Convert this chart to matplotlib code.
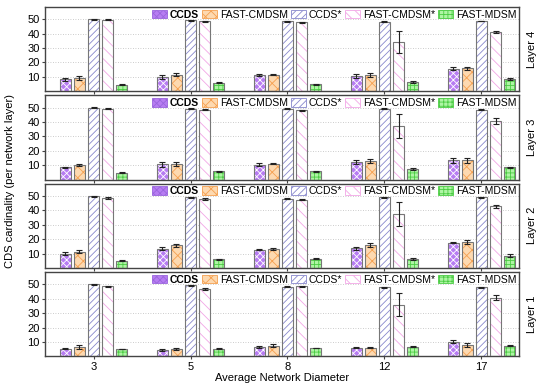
import matplotlib
matplotlib.use("Agg")
import matplotlib.pyplot as plt
import numpy as np
from matplotlib.patches import Patch

plt.rcParams['font.family'] = ['Liberation Sans', 'DejaVu Sans']
plt.rcParams['hatch.linewidth'] = 0.6

diameters = ["3", "5", "8", "12", "17"]
series = ["CCDS", "FAST-CMDSM", "CCDS*", "FAST-CMDSM*", "FAST-MDSM"]
layers = ["Layer 4", "Layer 3", "Layer 2", "Layer 1"]

# values per layer: rows = series, cols = diameters
layer4 = [[8.2, 10.0, 11.0, 10.7, 15.6],
          [9.1, 11.4, 11.5, 11.4, 16.0],
          [50.0, 49.3, 48.7, 48.3, 48.8],
          [49.7, 48.6, 48.0, 34.4, 41.1],
          [4.4, 6.0, 4.7, 6.5, 8.4]]
layer4_err = [[1.0, 1.3, 0.6, 1.3, 1.0],
              [1.2, 1.0, 0.6, 1.5, 1.0],
              [0.3, 0.4, 0.4, 0.3, 0.3],
              [0.3, 0.4, 0.4, 7.6, 0.7],
              [0.4, 0.4, 0.4, 0.6, 0.7]]
layer3 = [[8.4, 10.7, 10.3, 12.4, 13.3],
          [10.0, 11.0, 11.0, 13.0, 13.5],
          [50.0, 49.2, 49.4, 49.4, 48.7],
          [49.2, 48.5, 48.2, 37.5, 40.8],
          [4.7, 5.6, 5.8, 7.2, 8.6]]
layer3_err = [[0.4, 1.8, 1.0, 1.3, 1.5],
              [0.8, 1.3, 0.4, 1.2, 1.8],
              [0.3, 0.3, 0.3, 0.3, 0.4],
              [0.4, 0.4, 0.3, 8.4, 2.2],
              [0.3, 0.4, 0.3, 0.6, 0.3]]
layer2 = [[9.8, 13.5, 12.8, 13.8, 17.5],
          [11.2, 15.8, 13.0, 15.8, 18.0],
          [50.0, 49.3, 48.1, 49.3, 49.3],
          [48.8, 48.1, 47.4, 37.7, 43.0],
          [5.1, 6.1, 6.3, 6.1, 8.4]]
layer2_err = [[1.0, 0.8, 0.4, 1.0, 0.4],
              [1.0, 1.0, 0.8, 1.5, 1.2],
              [0.3, 0.3, 0.3, 0.3, 0.3],
              [0.5, 0.5, 0.4, 8.2, 1.0],
              [0.3, 0.4, 0.3, 0.6, 1.0]]
layer1 = [[5.3, 4.4, 6.5, 6.0, 10.0],
          [6.5, 5.1, 7.2, 6.0, 7.9],
          [50.0, 49.3, 48.3, 47.9, 47.9],
          [48.6, 46.9, 48.6, 36.0, 40.9],
          [5.1, 5.3, 5.8, 6.7, 7.4]]
layer1_err = [[0.4, 0.8, 0.4, 0.4, 1.0],
              [1.2, 1.0, 1.0, 0.5, 1.3],
              [0.3, 0.4, 0.4, 0.4, 0.4],
              [0.5, 0.8, 0.4, 8.3, 1.5],
              [0.3, 0.4, 0.3, 0.4, 0.4]]

values = [layer4, layer3, layer2, layer1]
errors = [layer4_err, layer3_err, layer2_err, layer1_err]

faces = ["#b77cf2", "#fdd9b0", "white", "white", "#aef5a4"]
hatch_cols = ["white", "#f5a050", "#8888cc", "#f2a6e6", "#4ccc44"]
hatches = ["xxxxx", "xxx", "/////", "\\\\\\", "++++"]
edge = "#777777"

fig, axes = plt.subplots(4, 1, figsize=(5.5, 3.86), dpi=100, sharex=True)
fig.subplots_adjust(left=0.082, right=0.944, top=0.982, bottom=0.077, hspace=0.05)

x = np.arange(len(diameters))
w = 0.112
step = 0.146

for ax, vals, errs, name in zip(axes, values, errors, layers):
    for i in range(len(series)):
        pos = x + (i - 2) * step
        ax.bar(pos, vals[i], w, color=faces[i], edgecolor=hatch_cols[i],
               hatch=hatches[i], linewidth=0, zorder=2)
        ax.bar(pos, vals[i], w, fill=False, edgecolor=edge, linewidth=0.8, zorder=3)
        ax.errorbar(pos, vals[i], yerr=errs[i], fmt="none", ecolor="#222222",
                    elinewidth=0.8, capsize=2, capthick=0.8, zorder=4)
    ax.set_ylim(0, 58.6)
    ax.set_xlim(-0.5, 4.39)
    ax.set_yticks([10, 20, 30, 40, 50])
    ax.yaxis.grid(True, linestyle=(0, (1, 2)), color="#bbbbbb", linewidth=0.6, zorder=0)
    ax.set_axisbelow(True)
    ax.tick_params(labelsize=8, length=2.5, width=0.8, color="#444444", pad=1.5)
    for s in ax.spines.values():
        s.set_color("#444444")
        s.set_linewidth(1.0)
    ax.text(1.028, 0.5, name, rotation=90, transform=ax.transAxes,
            va="center", ha="center", fontsize=8)
    handles = [Patch(facecolor=faces[i], edgecolor=hatch_cols[i] if i else "#9a66dd",
                     hatch=hatches[i], linewidth=0.6) for i in range(len(series))]
    leg = ax.legend(handles, series, ncol=5, loc="upper right", frameon=False,
                    fontsize=7.5, handlelength=1.4, handleheight=0.9,
                    columnspacing=0.3, handletextpad=0.3,
                    borderaxespad=0.15, borderpad=0.1)
    leg.get_texts()[0].set_fontweight("bold")

axes[-1].set_xticks(x)
axes[-1].set_xticklabels(diameters)
axes[-1].set_xlabel("Average Network Diameter", fontsize=8, labelpad=1)
fig.text(0.018, 0.53, "CDS cardinality (per network layer)", rotation=90,
         va="center", ha="center", fontsize=8)

fig.savefig("out.png", dpi=100)
